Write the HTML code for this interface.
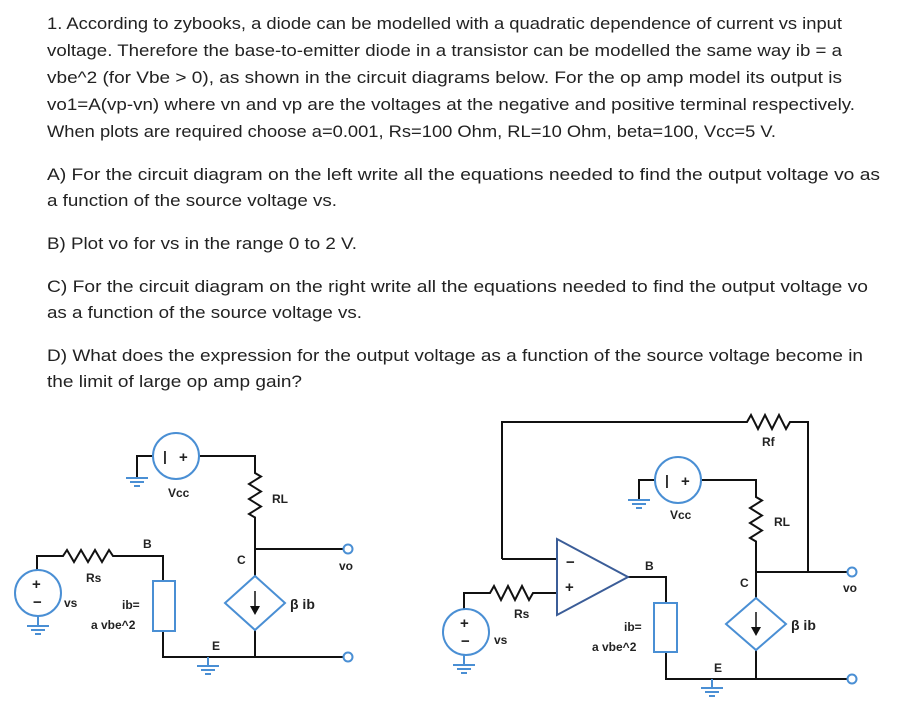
<!DOCTYPE html>
<html><head><style>
html,body{margin:0;padding:0;background:#fff;}
svg{display:block}
.t{font-family:"Liberation Sans",sans-serif;font-size:17px;fill:#222}
.l{font-family:"Liberation Sans",sans-serif;font-size:12px;font-weight:bold;fill:#222}
</style></head><body>
<svg width="923" height="710" xmlns="http://www.w3.org/2000/svg">
<g class="t">
<text x="47" y="29" textLength="795" lengthAdjust="spacingAndGlyphs">1. According to zybooks, a diode can be modelled with a quadratic dependence of current vs input</text>
<text x="47" y="56" textLength="795" lengthAdjust="spacingAndGlyphs">voltage. Therefore the base-to-emitter diode in a transistor can be modelled the same way ib = a</text>
<text x="47" y="83" textLength="795" lengthAdjust="spacingAndGlyphs">vbe^2 (for Vbe &gt; 0), as shown in the circuit diagrams below. For the op amp model its output is</text>
<text x="47" y="110" textLength="808" lengthAdjust="spacingAndGlyphs">vo1=A(vp-vn) where vn and vp are the voltages at the negative and positive terminal respectively.</text>
<text x="47" y="137" textLength="729" lengthAdjust="spacingAndGlyphs">When plots are required choose a=0.001, Rs=100 Ohm, RL=10 Ohm, beta=100, Vcc=5 V.</text>
<text x="47" y="180" textLength="833" lengthAdjust="spacingAndGlyphs">A) For the circuit diagram on the left write all the equations needed to find the output voltage vo as</text>
<text x="47" y="206" textLength="290" lengthAdjust="spacingAndGlyphs">a function of the source voltage vs.</text>
<text x="47" y="249" textLength="310" lengthAdjust="spacingAndGlyphs">B) Plot vo for vs in the range 0 to 2 V.</text>
<text x="47" y="292" textLength="821" lengthAdjust="spacingAndGlyphs">C) For the circuit diagram on the right write all the equations needed to find the output voltage vo</text>
<text x="47" y="318" textLength="315" lengthAdjust="spacingAndGlyphs">as a function of the source voltage vs.</text>
<text x="47" y="361" textLength="816" lengthAdjust="spacingAndGlyphs">D) What does the expression for the output voltage as a function of the source voltage become in</text>
<text x="47" y="387" textLength="255" lengthAdjust="spacingAndGlyphs">the limit of large op amp gain?</text>
</g>

<!-- LEFT CIRCUIT -->
<g fill="none" stroke="#111" stroke-width="2">
<path d="M153 456 L137 456 L137 478"/>
<path d="M199 456 L255 456 L255 473 l6 3.5 l-12 7.5 l12 7.5 l-12 7.5 l12 7.5 l-12 7.5 l6 3.5 L255 576"/>
<path d="M255 549 L344 549"/>
<path d="M255 629 L255 657"/>
<path d="M163 631 L163 657 L344 657"/>
<path d="M37 570 L37 556 L63 556 l4 -6 l7 12 l7 -12 l7 12 l7 -12 l7 12 l7 -12 l4 6 L163 556 L163 581"/>
</g>
<g fill="none" stroke="#4a8fd4" stroke-width="2">
<circle cx="176" cy="456" r="23"/>
<circle cx="38" cy="593" r="23"/>
<rect x="153" y="581" width="22" height="50"/>
<path d="M255 576 L285 603 L255 630 L225 603 Z"/>
<circle cx="348" cy="549" r="4.5"/>
<circle cx="348" cy="657" r="4.5"/>
<path d="M126 478 L148 478 M130 482 L144 482 M134 486 L140 486"/>
<path d="M38 616 L38 626 M27 626 L49 626 M31 630 L45 630 M35 634 L41 634"/>
<path d="M208 657 L208 666 M197 666 L219 666 M201 670 L215 670 M205 674 L211 674"/>
</g>
<path d="M255 591 L255 608" stroke="#111" stroke-width="1.5"/>
<path d="M250 606 L260 606 L255 615 Z" fill="#111"/>
<g class="l">
<text x="163" y="461" font-size="14">|</text><text x="179" y="462" font-size="15">+</text>
<text x="168" y="497">Vcc</text>
<text x="272" y="503">RL</text>
<text x="143" y="548">B</text>
<text x="237" y="564">C</text>
<text x="339" y="570">vo</text>
<text x="86" y="582">Rs</text>
<text x="64" y="607">vs</text>
<text x="122" y="609">ib=</text>
<text x="91" y="629">a vbe^2</text>
<text x="212" y="650">E</text>
<text x="290" y="609" font-size="14">β ib</text>
<text x="32" y="589" font-size="15">+</text>
<text x="33" y="607" font-size="15">−</text>
</g>

<!-- RIGHT CIRCUIT -->
<g fill="none" stroke="#111" stroke-width="2">
<path d="M502 559 L502 422 L747 422 l4 -7 l7 14 l7 -14 l7 14 l7 -14 l7 14 l4 -7 L808 422 L808 572"/>
<path d="M502 559 L557 559"/>
<path d="M464 609 L464 593 L490 593 l4 -7 l7 14 l7 -14 l7 14 l7 -14 l7 14 l4 -7 L557 593"/>
<path d="M628 577 L666 577 L666 603"/>
<path d="M666 652 L666 679 L848 679"/>
<path d="M655 480 L639 480 L639 500"/>
<path d="M701 480 L756 480 L756 497 l6 3.5 l-12 7.5 l12 7.5 l-12 7.5 l12 7.5 l-12 7.5 l6 3.5 L756 598"/>
<path d="M756 572 L848 572"/>
<path d="M756 650 L756 679"/>
</g>
<path d="M557 539 L557 615 L628 577 Z" fill="none" stroke="#3b5d98" stroke-width="2"/>
<g fill="none" stroke="#4a8fd4" stroke-width="2">
<circle cx="678" cy="480" r="23"/>
<circle cx="466" cy="632" r="23"/>
<rect x="654" y="603" width="23" height="49"/>
<path d="M756 598 L786 624 L756 650 L726 624 Z"/>
<circle cx="852" cy="572" r="4.5"/>
<circle cx="852" cy="679" r="4.5"/>
<path d="M628 500 L650 500 M632 504 L646 504 M636 508 L642 508"/>
<path d="M464 655 L464 665 M453 665 L475 665 M457 669 L471 669 M461 673 L467 673"/>
<path d="M712 679 L712 688 M701 688 L723 688 M705 692 L719 692 M709 696 L715 696"/>
</g>
<path d="M756 612 L756 629" stroke="#111" stroke-width="1.5"/>
<path d="M751 627 L761 627 L756 636 Z" fill="#111"/>
<g class="l">
<text x="665" y="485" font-size="14">|</text><text x="681" y="486" font-size="15">+</text>
<text x="670" y="519">Vcc</text>
<text x="774" y="526">RL</text>
<text x="762" y="446">Rf</text>
<text x="566" y="567" font-size="15">−</text>
<text x="565" y="592" font-size="15">+</text>
<text x="645" y="570">B</text>
<text x="740" y="587">C</text>
<text x="843" y="592">vo</text>
<text x="514" y="618">Rs</text>
<text x="494" y="644">vs</text>
<text x="624" y="631">ib=</text>
<text x="592" y="651">a vbe^2</text>
<text x="714" y="672">E</text>
<text x="791" y="630" font-size="14">β ib</text>
<text x="460" y="628" font-size="15">+</text>
<text x="461" y="646" font-size="15">−</text>
</g>
</svg>
</body></html>
